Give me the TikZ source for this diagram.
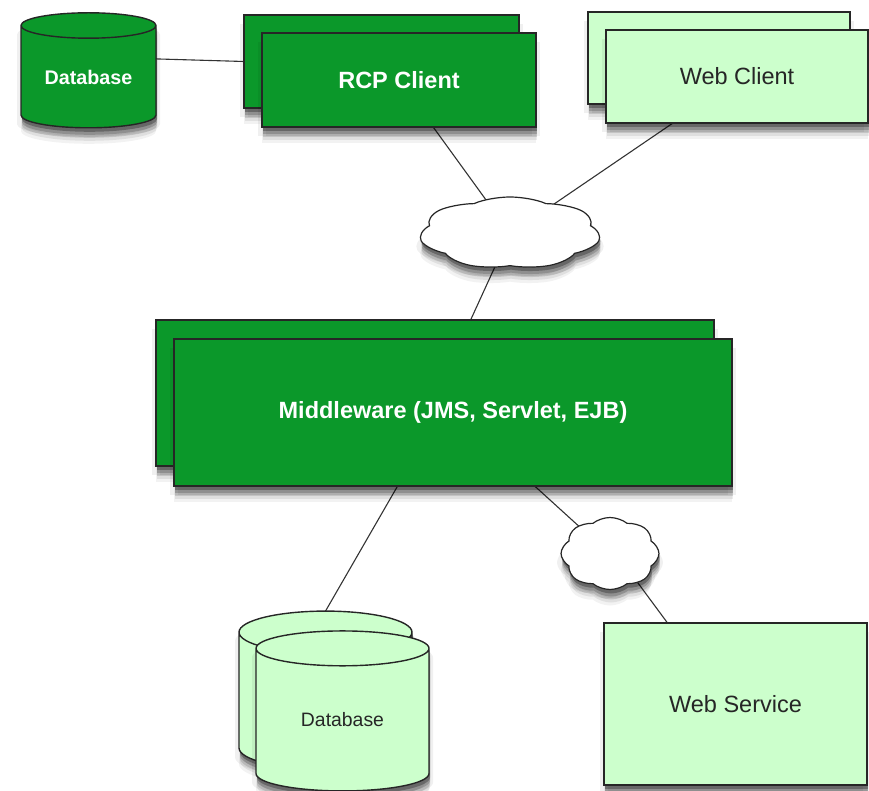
\documentclass[tikz,border=0pt]{standalone}
\usepackage{fontspec}
\setmainfont{Liberation Sans}
\usetikzlibrary{shapes.geometric,shapes.symbols,shadows,backgrounds}

\tikzset{
  softshadow/.style={
    general shadow={shadow xshift=0pt,shadow yshift=-16pt,fill=black,opacity=.05},
    general shadow={shadow xshift=4pt,shadow yshift=-9pt,fill=black,opacity=.06},
    general shadow={shadow xshift=-4pt,shadow yshift=-9pt,fill=black,opacity=.06},
    general shadow={shadow xshift=1pt,shadow yshift=-13pt,fill=black,opacity=.08},
    general shadow={shadow xshift=1pt,shadow yshift=-10pt,fill=black,opacity=.12},
    general shadow={shadow xshift=1pt,shadow yshift=-7pt,fill=black,opacity=.18},
    general shadow={shadow xshift=1pt,shadow yshift=-4pt,fill=black,opacity=.28}},
  darkgreen/.style={draw=black!85,line width=1.4pt,fill=tierdark,text=white,font=\bfseries\fontsize{23.5}{26}\selectfont,softshadow},
  lightgreen/.style={draw=black!85,line width=1.4pt,fill=tierlight,text=black!85,font=\fontsize{23.5}{26}\selectfont,softshadow},
  tierbox/.style={rectangle,outer sep=0pt,inner sep=0pt,minimum width=#1},
  tierbox/.default=274pt,
  dbcyl/.style={cylinder,shape border rotate=90,outer sep=0pt,inner sep=0pt},
  netcloud/.style={cloud,transform shape,draw=black!85,line width=1.2pt,fill=white,outer sep=0pt,inner sep=0pt,aspect=1,softshadow},
  link/.style={draw=black!80,line width=1.1pt}
}
\definecolor{tierdark}{RGB}{11,152,42}
\definecolor{tierlight}{RGB}{204,255,204}

\begin{document}
\begin{tikzpicture}[x=1pt,y=-1pt]
    \useasboundingbox (0,0) rectangle (869,791);
    % top row
    \node[dbcyl,darkgreen,minimum width=135pt,minimum height=115pt,aspect=.29,font=\bfseries\fontsize{19.7}{22}\selectfont] (dbtop) at (88.5,77) {Database};
    \node[tierbox=275pt,darkgreen,minimum height=93pt] (rcpback) at (381.5,61.5) {};
    \node[tierbox=274pt,darkgreen,minimum height=94pt] (rcpfront) at (399,80) {RCP Client};
    \node[tierbox=262pt,lightgreen,minimum height=92pt] (webback) at (719,58) {};
    \node[tierbox=262pt,lightgreen,minimum height=93pt] (webfront) at (737,76.5) {Web Client};
    % networks
    \node[netcloud,cloud puffs=7,cloud puff arc=100,xscale=2.53,minimum width=72pt,minimum height=72pt] (netmain) at (510,233) {};
    \node[netcloud,cloud puffs=8,cloud puff arc=100,xscale=1.36,minimum width=72pt,minimum height=72pt] (netside) at (610,553.5) {};
    % middleware
    \node[tierbox=558pt,darkgreen,minimum height=146pt] (mwback) at (435,393) {};
    \node[tierbox=558pt,darkgreen,minimum height=147pt] (mwfront) at (453,412.5) {Middleware (JMS, Servlet, EJB)};
    % bottom row
    \node[dbcyl,lightgreen,minimum width=173pt,minimum height=158pt,aspect=.42] (dbback) at (325.5,701) {\phantom{Database}};
    \node[dbcyl,lightgreen,minimum width=173pt,minimum height=160pt,aspect=.42,font=\fontsize{19.4}{22}\selectfont] (dbfront) at (342.5,720) {Database};
    \node[tierbox=263pt,lightgreen,minimum height=162pt] (wsbox) at (735.5,704) {Web Service};
    % connectors
    \begin{scope}[on background layer]
      \foreach \from/\to in {dbtop.15/rcpback.west,rcpfront.-54/netmain.106,webfront.-144/netmain.59,netmain.260/mwback.64,mwfront.233/dbback.north,mwfront.-42/netside.130,netside.-55/wsbox.130}{
        \draw[link] (\from) -- (\to);
      }
    \end{scope}
\end{tikzpicture}
\end{document}
